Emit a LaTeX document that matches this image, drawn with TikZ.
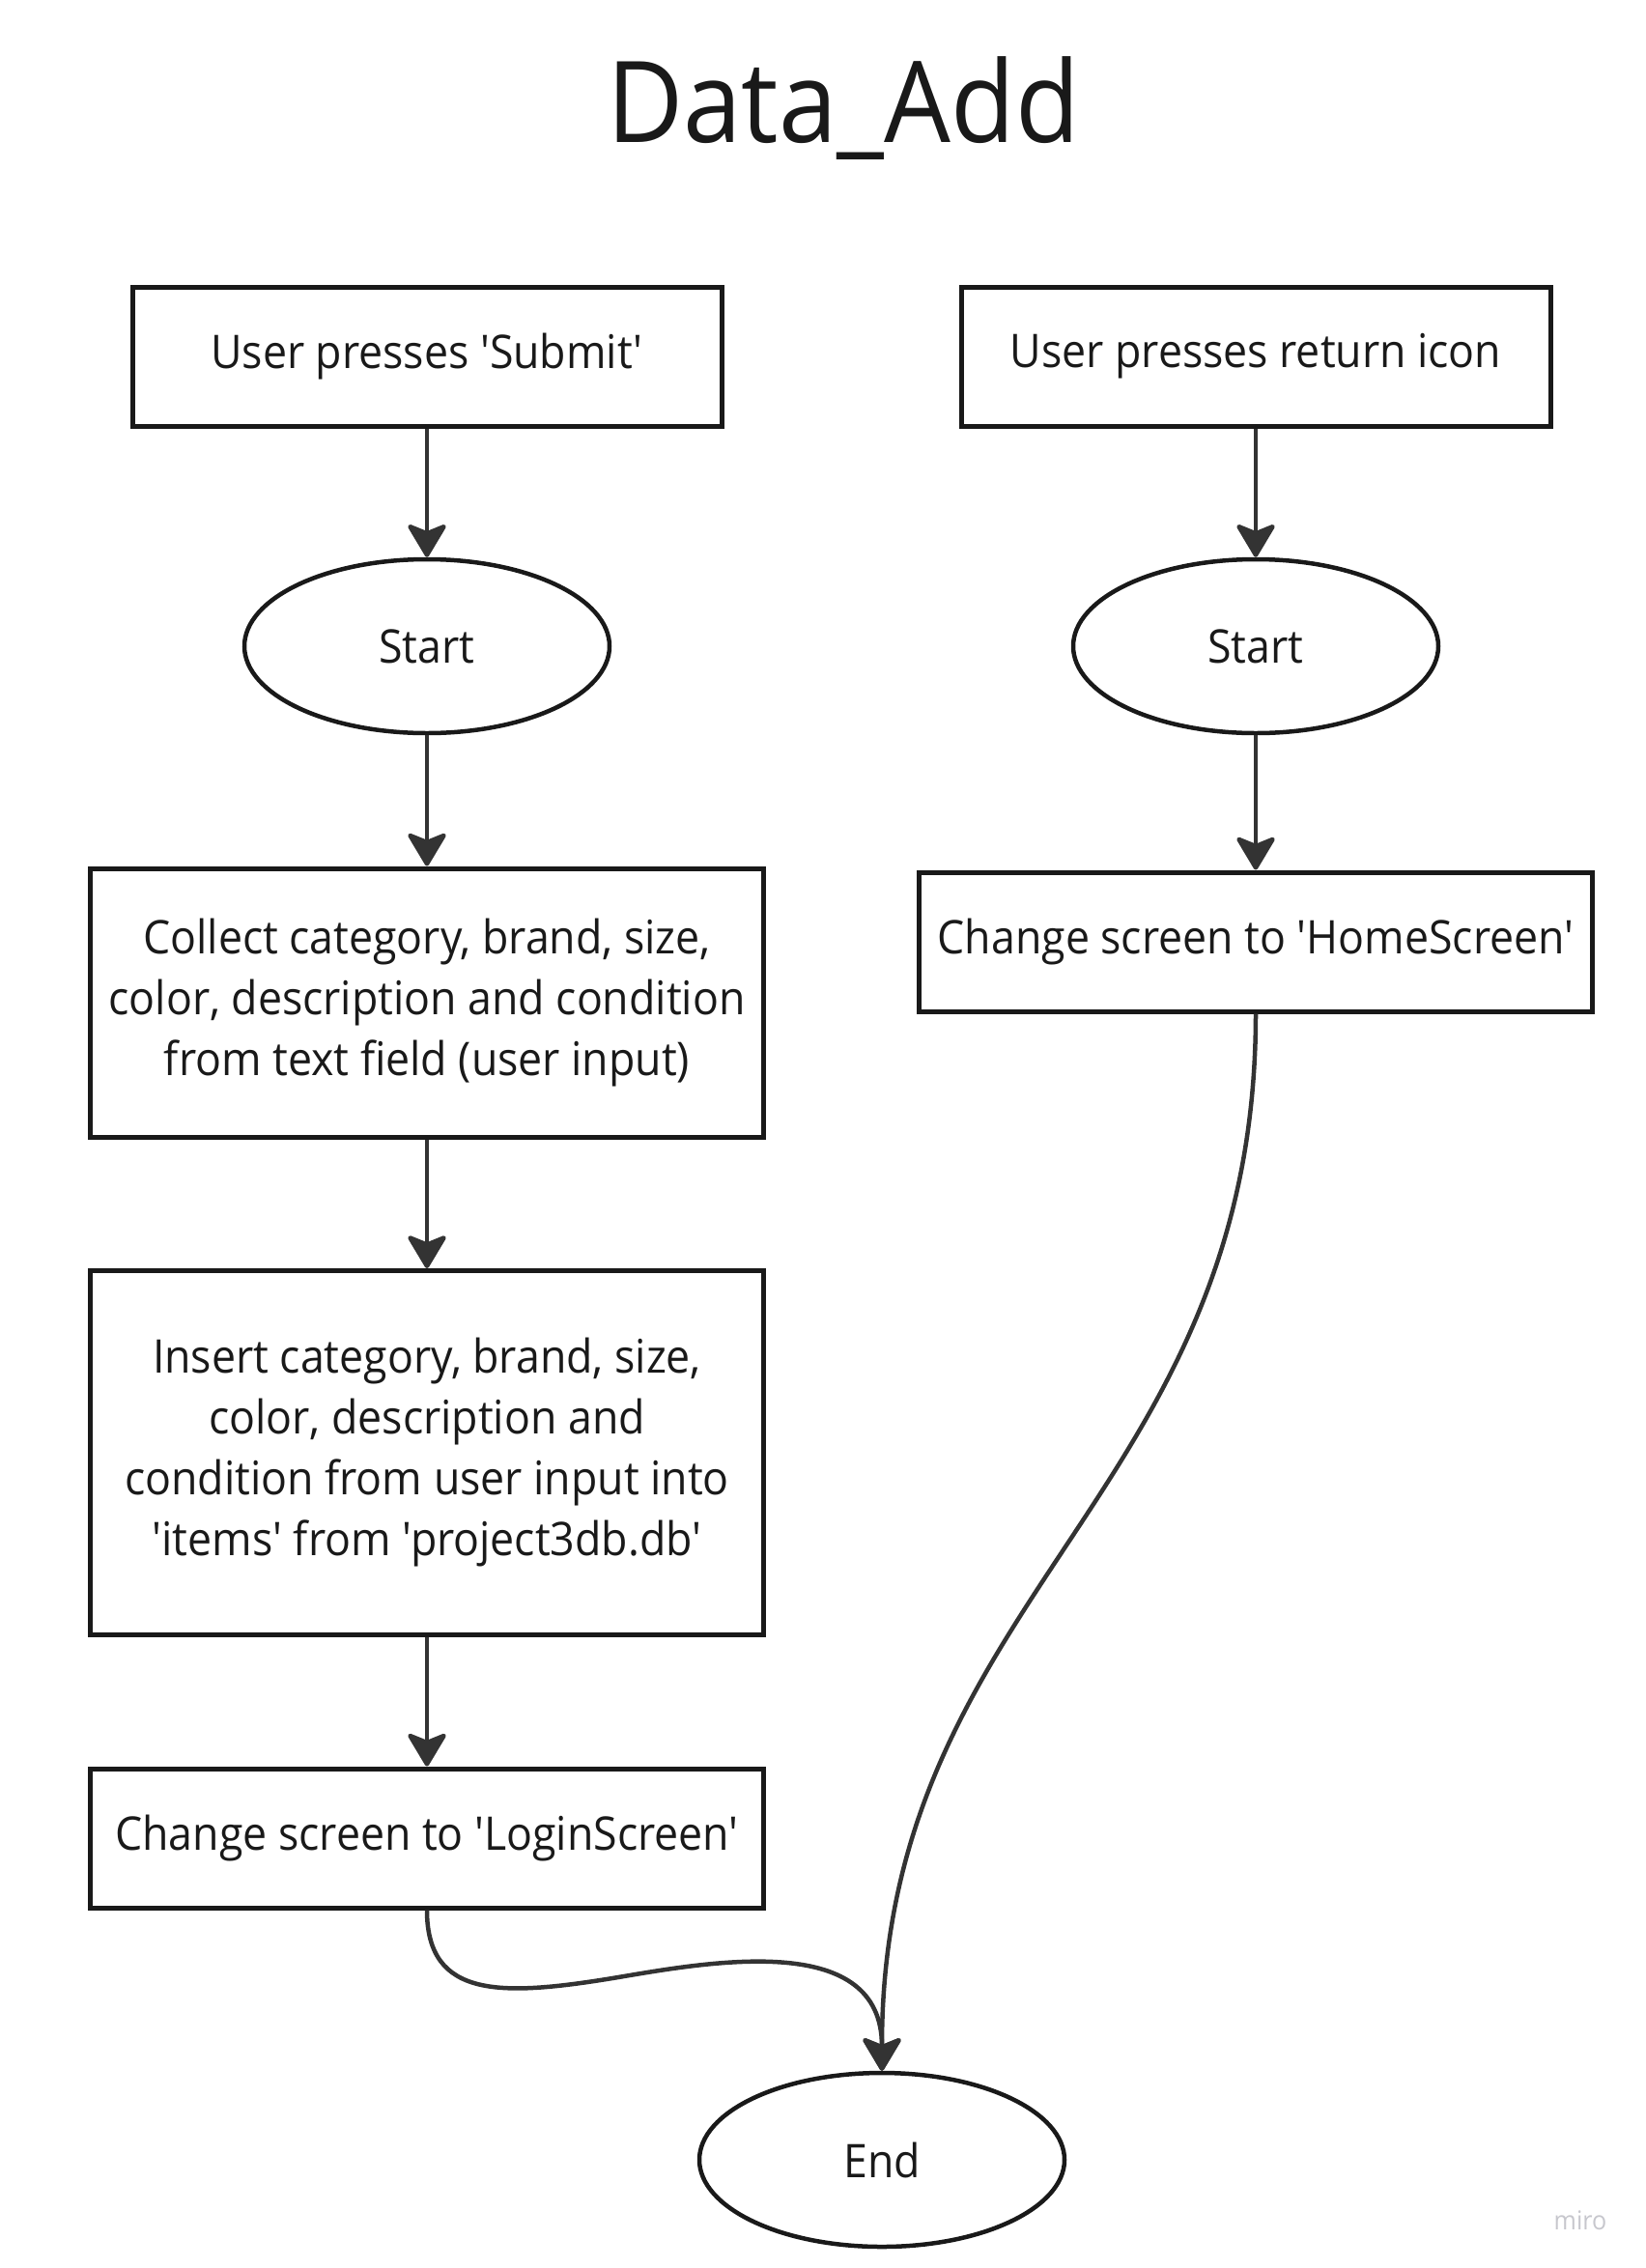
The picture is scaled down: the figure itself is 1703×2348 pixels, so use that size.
\documentclass[tikz,border=0pt]{standalone}
\usepackage{fontspec}
\setmainfont{Open Sans}[FakeStretch=0.93, Ligatures=TeXOff]
\usetikzlibrary{shapes.geometric,arrows.meta}

\begin{document}
\begin{tikzpicture}[x=1pt,y=-1pt,
  every node/.style = {align=center, text=black!90,
    font=\fontsize{48}{63}\selectfont},
  stepbox/.style = {shape=rectangle, draw=black!90, line width=5pt,
    minimum width=610pt, minimum height=144pt, inner sep=0pt},
  terminal/.style = {shape=ellipse, draw=black!90, line width=4.5pt,
    minimum width=378pt, minimum height=180pt, inner sep=0pt},
  link/.style = {draw=black!80, line width=4.5pt,
    -{Stealth[length=38pt,width=45pt,inset=9pt,round]}}]
  \useasboundingbox (0,0) rectangle (1703,2348);
  \node[font=\fontsize{117}{140}\selectfont] (title) at (873,112) {Data\_Add};
  % left column
  \node[stepbox] (submit) at (442,369) {User presses 'Submit'};
  \node[terminal] (startL) at (442,669) {Start};
  \node[stepbox, minimum width=697pt, minimum height=278pt] (collect) at (442,1038)
    {Collect category, brand, size,\\ color, description and condition\\ from text field (user input)};
  \node[stepbox, minimum width=697pt, minimum height=377pt] (insert) at (442,1504)
    {Insert category, brand, size,\\ color, description and\\ condition from user input into\\ 'items' from 'project3db.db'};
  \node[stepbox, minimum width=697pt] (login) at (442,1903) {Change screen to 'LoginScreen'};
  % right column
  \node[stepbox] (back) at (1300,369) {User presses return icon};
  \node[terminal] (startR) at (1300,669) {Start};
  \node[stepbox, minimum width=697pt] (home) at (1300,975) {Change screen to 'HomeScreen'};
  \node[terminal] (end) at (913,2236) {End};
  \node[text=blue!10!black!22, font=\fontsize{27}{30}\selectfont] (miro) at (1636,2299) {miro};
  \draw[link] (submit.south) -- (startL.north);
  \draw[link] (startL.south) -- (collect.north);
  \draw[link] (collect.south) -- (insert.north);
  \draw[link] (insert.south) -- (login.north);
  \draw[link] (back.south) -- (startR.north);
  \draw[link] (startR.south) -- (home.north);
  \draw[link] (login.south) .. controls (442,2070) and (520,2067) .. (640,2047)
    .. controls (740,2030) and (913,2000) .. (end.north);
  \draw[link] (home.south) .. controls (1300,1550) and (913,1650) .. (end.north);
\end{tikzpicture}
\end{document}
